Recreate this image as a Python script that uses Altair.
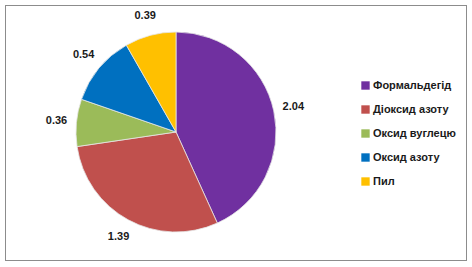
import altair as alt
import pandas as pd

categories = ["Формальдегід", "Діоксид азоту", "Оксид вуглецю", "Оксид азоту", "Пил"]
values = [2.04, 1.39, 0.36, 0.54, 0.39]
colors = ["#7030A0", "#C0504D", "#9BBB59", "#0070C0", "#FFC000"]

df = pd.DataFrame({
    "name": categories,
    "value": values,
    "order": list(range(len(categories))),
    "label": [f"{v:.2f}" for v in values],
})

CX, CY, R = 176, 132, 100

base = alt.Chart(df).encode(
    theta=alt.Theta("value:Q", stack=True, scale=alt.Scale(range=[0, 6.283185307])),
    order=alt.Order("order:Q"),
)

pie = base.mark_arc(
    radius=R, stroke="#e6e6e6", strokeWidth=0.8
).encode(
    x=alt.value(CX),
    y=alt.value(CY),
    color=alt.Color(
        "name:N",
        scale=alt.Scale(domain=categories, range=colors),
        sort=categories,
        legend=alt.Legend(
            title=None,
            orient="none",
            legendX=360,
            legendY=80,
            symbolType="square",
            symbolSize=70,
            symbolStrokeWidth=0,
            labelFont="Liberation Sans",
            labelFontSize=11,
            labelFontWeight="bold",
            labelColor="#1a1a1a",
            rowPadding=12,
            labelOffset=2,
        ),
    ),
)

labels = base.mark_text(
    radius=120, font="Liberation Sans", fontSize=11, fontWeight="bold", color="#1a1a1a"
).encode(
    x=alt.value(CX),
    y=alt.value(CY),
    text="label:N",
)

frame = alt.Chart(df).mark_rect(fill=None, stroke="#8c8c8c", strokeWidth=1).encode(
    x=alt.value(5.5), x2=alt.value(466.5), y=alt.value(5.5), y2=alt.value(260.5)
)

chart = alt.layer(frame, pie, labels).properties(
    width=472, height=267, autosize=alt.AutoSizeParams(type="none"), padding=0,
    background="white",
).configure_view(stroke=None)

chart.save("out.html", embed_options={"renderer": "svg", "actions": False})
